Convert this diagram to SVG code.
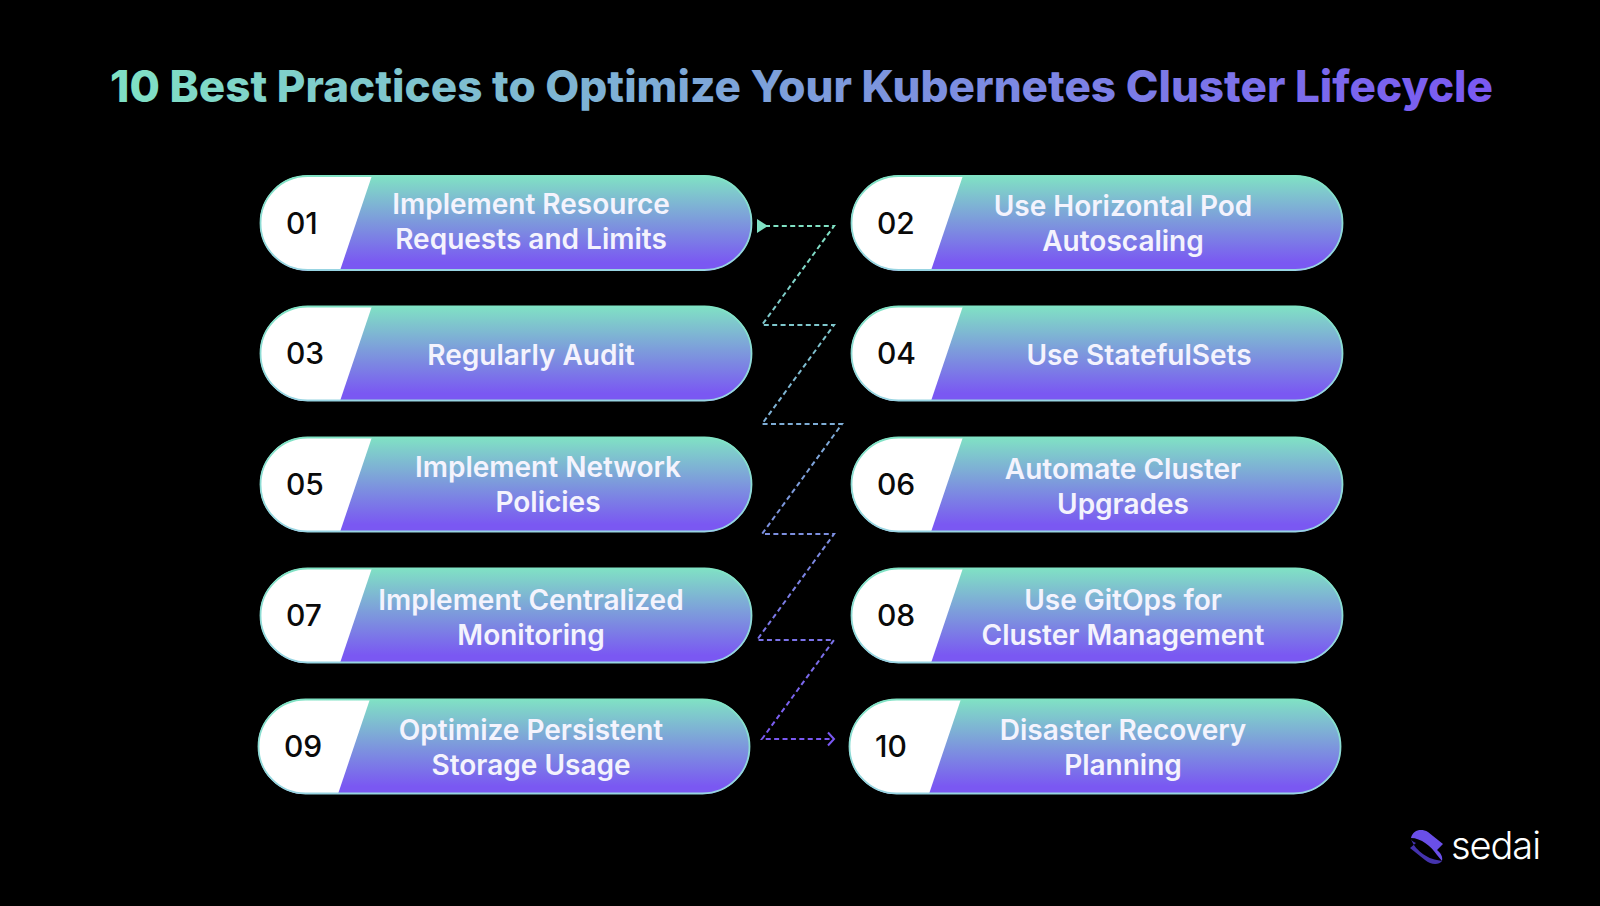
<svg xmlns="http://www.w3.org/2000/svg" xmlns:xlink="http://www.w3.org/1999/xlink" width="1600" height="906" viewBox="0 0 1600 906">
<style>
text{font-family:Inter,"Noto Sans","Liberation Sans",sans-serif}
.t{font-size:44px;font-weight:800}
.l{font-size:28px;font-weight:600;fill:#f4f3fd;text-anchor:middle}
.n{font-size:30px;font-weight:500;fill:#0a0a0a}
.c{fill:none;stroke:url(#cg);stroke-width:2;stroke-dasharray:5 3.4}
</style>
<defs>
<linearGradient id="pg" x1="0" y1="0" x2="0" y2="1"><stop offset="0" stop-color="#80e2c4"/><stop offset="0.92" stop-color="#7a58f2"/><stop offset="1" stop-color="#7a58f2"/></linearGradient>
<linearGradient id="sg" x1="0" y1="0" x2="0" y2="1"><stop offset="0" stop-color="#80e2c4"/><stop offset="1" stop-color="#98d4e2"/></linearGradient>
<linearGradient id="tg" gradientUnits="userSpaceOnUse" x1="110" y1="0" x2="1493" y2="0"><stop offset="0" stop-color="#80e2c4"/><stop offset="1" stop-color="#7a58f2"/></linearGradient>
<linearGradient id="cg" gradientUnits="userSpaceOnUse" x1="0" y1="226" x2="0" y2="739"><stop offset="0" stop-color="#80e2c4"/><stop offset="1" stop-color="#7a58f2"/></linearGradient>
<clipPath id="pc"><rect width="492" height="95" rx="47.5"/></clipPath>
<g id="pill">
<rect width="492" height="95" rx="47.5" fill="url(#pg)"/>
<polygon points="0,0 112,0 80,95 0,95" fill="#fff" clip-path="url(#pc)"/>
<rect x="0.5" y="0.5" width="491" height="94" rx="47" fill="none" stroke="url(#sg)" stroke-width="1.8"/>
</g>
</defs>
<rect width="1600" height="906" fill="#000"/>
<text id="title" class="t" x="110" y="102" fill="url(#tg)" textLength="1383">10 Best Practices to Optimize Your Kubernetes Cluster Lifecycle</text>
<g id="connectors">
<path class="c" d="M765 226H834L762 325H834L762 424H842L762 534H834L757 640H834L762 739H832"/>
<polygon points="757,219 757,233 768,226" fill="#80e2c4"/>
<path d="M828 732.500L834 739L828 745.500" fill="none" stroke="#7a58f2" stroke-width="2"/>
</g>
<g id="node-01"><use href="#pill" x="260" y="175.500"/><text class="n" x="286" y="234">01</text><text class="l" x="531" y="213.500">Implement Resource</text><text class="l" x="531" y="248.500">Requests and Limits</text></g>
<g id="node-02"><use href="#pill" x="851" y="175.500"/><text class="n" x="877" y="234">02</text><text class="l" x="1123" y="216">Use Horizontal Pod</text><text class="l" x="1123" y="251">Autoscaling</text></g>
<g id="node-03"><use href="#pill" x="260" y="306"/><text class="n" x="286" y="364">03</text><text class="l" x="531" y="365">Regularly Audit</text></g>
<g id="node-04"><use href="#pill" x="851" y="306"/><text class="n" x="877" y="364">04</text><text class="l" x="1139" y="365">Use StatefulSets</text></g>
<g id="node-05"><use href="#pill" x="260" y="437"/><text class="n" x="286" y="495">05</text><text class="l" x="548" y="477">Implement Network</text><text class="l" x="548" y="512">Policies</text></g>
<g id="node-06"><use href="#pill" x="851" y="437"/><text class="n" x="877" y="495">06</text><text class="l" x="1123" y="479">Automate Cluster</text><text class="l" x="1123" y="514">Upgrades</text></g>
<g id="node-07"><use href="#pill" x="260" y="568"/><text class="n" x="286" y="626">07</text><text class="l" x="531" y="610">Implement Centralized</text><text class="l" x="531" y="645">Monitoring</text></g>
<g id="node-08"><use href="#pill" x="851" y="568"/><text class="n" x="877" y="626">08</text><text class="l" x="1123" y="610">Use GitOps for</text><text class="l" x="1123" y="645">Cluster Management</text></g>
<g id="node-09"><use href="#pill" x="258" y="699"/><text class="n" x="284" y="757">09</text><text class="l" x="531" y="740">Optimize Persistent</text><text class="l" x="531" y="775">Storage Usage</text></g>
<g id="node-10"><use href="#pill" x="849" y="699"/><text class="n" x="875" y="757">10</text><text class="l" x="1123" y="740">Disaster Recovery</text><text class="l" x="1123" y="775">Planning</text></g>
<g id="logo">
<path d="M1411 838C1413 830 1421 828 1428 832L1443 844L1437 850C1441 853 1443 857 1442 861L1437 855C1431 846 1421 838 1411 838Z" fill="#6a4fe8"/>
<path d="M1411 838C1412 846 1424 858 1437 860L1442 861C1439 865 1431 865 1425 860L1410 848L1416 843C1413 842 1411 840 1411 838Z" fill="#4433ae"/>
<text x="1451" y="859" font-size="38" font-weight="300" fill="#fff" textLength="90">sedai</text>
</g>
</svg>
